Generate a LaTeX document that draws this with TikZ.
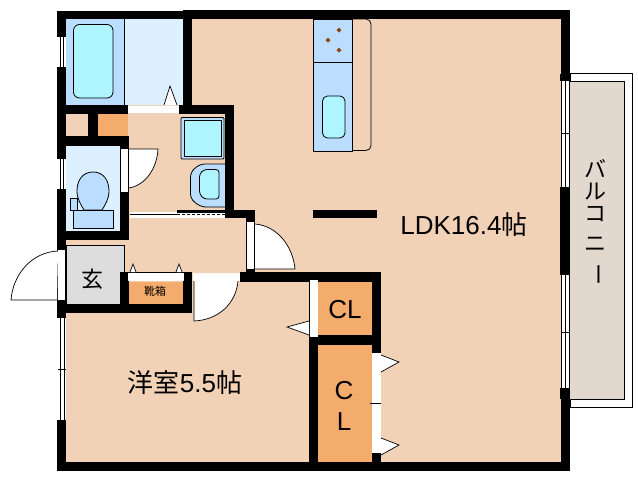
\documentclass[tikz,border=0pt]{standalone}
\usepackage{fontspec}
\setmainfont{Liberation Sans}
\newfontfamily\jpfont{Noto Sans CJK JP}
\definecolor{floorc}{HTML}{F2D2B6}
\definecolor{orangec}{HTML}{F4AC6C}
\definecolor{bluec}{HTML}{BBDDFF}
\definecolor{paleblue}{HTML}{DDF0FF}
\definecolor{cyanc}{HTML}{AEF5FF}
\definecolor{greyc}{HTML}{DDDDDD}
\definecolor{balconyc}{HTML}{E2D8CE}
\definecolor{dotc}{HTML}{8B4A10}
\tikzset{
	wall/.style={fill=black},
	thinline/.style={draw=black,line width=0.8pt},
	opening/.style={fill=white},
	doorleaf/.style={fill=white,draw=black,line width=0.7pt},
	bigtext/.style={font=\fontsize{26}{26}\selectfont,inner sep=0pt},
	jptext/.style={font=\jpfont\fontsize{22}{22}\selectfont,inner sep=0pt},
}

\begin{document}
\begin{tikzpicture}[x=1pt,y=-1pt]
	\useasboundingbox (0,0) rectangle (638,480);

	%Rooms
	\fill[floorc] (60,14) rectangle (566,467);
	\fill[paleblue] (66,19) rectangle (183,105);
	\fill[bluec] (66,19) rectangle (124,105);
	\draw[black,line width=0.6pt] (124,19) -- (124,105);
	\fill[orangec] (98,113) rectangle (128,136);
	\fill[paleblue] (66,146) rectangle (120,231);
	\draw[thinline,fill=greyc] (66,245) -- (124,245) -- (124,272) -- (120,272) -- (120,304) -- (66,304) -- cycle;
	\fill[orangec] (129,282) rectangle (183,304);
	\fill[orangec] (318,282) rectangle (372,335);
	\fill[orangec] (318,345) rectangle (372,462);

	%Balcony
	\draw[black,line width=1pt,fill=white] (570,73) rectangle (632,407);
	\draw[black,line width=1pt,fill=balconyc] (570,81.5) -- (624,81.5) -- (624,399) -- (570,399);

	%Bath
	\draw[thinline,fill=cyanc,rounded corners=6pt] (73.5,24.5) rectangle (113,98);
	\draw[doorleaf] (164,105) -- (170,86) -- (177,105);

	%Toilet
	\draw[thinline,fill=bluec] (93,172) .. controls (104,172) and (109,181) .. (109,191) .. controls (109,199) and (105,205) .. (102,210) -- (84,210) .. controls (81,205) and (77,199) .. (77,191) .. controls (77,181) and (82,172) .. (93,172) -- cycle;
	\draw[thinline,fill=bluec] (70.5,198) rectangle (77.5,210);
	\draw[thinline,fill=bluec] (73.5,210) rectangle (113,228);

	%Washroom
	\draw[thinline,fill=bluec,rounded corners=1pt] (181,117.5) rectangle (224,159);
	\draw[thinline,fill=cyanc] (184,120.5) rectangle (221,156);
	\draw[thinline,fill=bluec,rounded corners=5pt] (226,164) -- (200,164) -- (190.5,172) -- (190.5,199) -- (201,207) -- (226,207);
	\draw[thinline,fill=cyanc,rounded corners=3pt] (219,169.5) -- (204,169.5) -- (199.5,174) -- (199.5,194) -- (204,199) -- (219,199) -- cycle;

	%Kitchen
	\draw[thinline,fill=floorc,rounded corners=5pt] (352,19) -- (371,19) -- (371,150.5) -- (352,150.5);
	\draw[thinline,fill=bluec] (313.5,19) rectangle (352,151.5);
	\draw[thinline] (313.5,62) -- (352,62);
	\draw[thinline,fill=cyanc,rounded corners=5pt] (322.5,96) rectangle (345,138);
	\fill[dotc] (339,27.5) -- (341.5,30) -- (339,32.5) -- (336.5,30) -- cycle;
	\fill[dotc] (328,37.5) -- (330.5,40) -- (328,42.5) -- (325.5,40) -- cycle;
	\fill[dotc] (339,47.5) -- (341.5,50) -- (339,52.5) -- (336.5,50) -- cycle;

	%Walls
	\fill[wall] (57,11) rectangle (192,19);
	\fill[wall] (183,10) rectangle (570,19);
	\fill[wall] (57,11) rectangle (66,471);
	\fill[wall] (57,462) rectangle (570,471);
	\fill[wall] (561,10) rectangle (570,471);
	\fill[wall] (183,10) rectangle (192,113);
	\fill[wall] (57,105) rectangle (128,114);
	\fill[wall] (179,105) rectangle (234,114);
	\fill[wall] (225,105) rectangle (234,218);
	\fill[wall] (225,210) rectangle (255,218);
	\fill[wall] (88,114) rectangle (98,136);
	\fill[wall] (57,136) rectangle (129,146);
	\fill[wall] (120,136) rectangle (129,240);
	\fill[wall] (57,231) rectangle (129,240);
	\fill[wall] (246,210) rectangle (255,281);
	\fill[wall] (120,272) rectangle (192,281);
	\fill[wall] (120,272) rectangle (129,304);
	\fill[wall] (57,304) rectangle (192,313);
	\fill[wall] (183,272) rectangle (192,313);
	\fill[wall] (240,272) rectangle (381,282);
	\fill[wall] (309,272) rectangle (318,462);
	\fill[wall] (309,335) rectangle (381,345);
	\fill[wall] (372,272) rectangle (381,462);
	\fill[wall] (313,210) rectangle (377,218);
	\fill[wall] (560,74) rectangle (570,81);
	\fill[wall] (560,187) rectangle (570,275);
	\fill[wall] (560,388) rectangle (570,399);

	%Openings
	\fill[opening] (128,106) rectangle (179,113);
	\fill[opening] (58,250) rectangle (65,300);
	\fill[opening] (128,272.5) rectangle (184,281);
	\fill[opening] (193,272.5) rectangle (240,281);
	\fill[opening] (247,222) rectangle (254,269);
	\fill[opening] (121,149) rectangle (128,192);
	\fill[opening] (310,280) rectangle (318,337);
	\fill[opening] (372,353) rectangle (381,453);
	\draw[black,line width=0.7pt] (370,403) -- (381,403);

	%Sliding door
	\fill[opening] (130,211.5) rectangle (225,218);
	\draw[black,line width=1pt] (130,214.5) -- (177,214.5);
	\draw[black,line width=1pt,dash pattern=on 3pt off 2pt] (177,214.5) -- (225,214.5);
	\fill[wall] (177,210) rectangle (225,212.5);

	%Windows
	\fill[opening] (57,37) rectangle (66,67);
	\draw[black,line width=1pt] (60,37) -- (60,67) (63.5,37) -- (63.5,67);
	\fill[opening] (57,159) rectangle (66,189);
	\draw[black,line width=1pt] (60,159) -- (60,189) (63.5,159) -- (63.5,189);
	\fill[opening] (57,318) rectangle (66,420);
	\draw[black,line width=1pt] (60.5,318) -- (60.5,420) (64,318) -- (64,420) (58,369) -- (66,369) (60.5,364) -- (60.5,372);
	\fill[opening] (561,81) rectangle (570,187);
	\draw[black,line width=1pt] (561.5,81) -- (561.5,187) (565.5,81) -- (565.5,187) (569.5,81) -- (569.5,187) (561,133) -- (570,133);
	\fill[opening] (561,275) rectangle (570,388);
	\draw[black,line width=1pt] (561.5,275) -- (561.5,388) (565.5,275) -- (565.5,388) (569.5,275) -- (569.5,388) (561,332) -- (570,332);

	%Doors
	\draw[doorleaf] (129,149) -- (158,149) .. controls (157,168) and (146,185) .. (129,188);
	\draw[doorleaf] (58,251) .. controls (32,252) and (13,274) .. (11,300) -- (57,300);
	\draw[doorleaf] (194,281) -- (194,321) .. controls (218,320) and (236,304) .. (238,281);
	\draw[doorleaf] (255,224) .. controls (278,226) and (293,247) .. (295,269) -- (255,269);
	\draw[doorleaf] (130,272) -- (133,264) -- (136,272);
	\draw[doorleaf] (176,272) -- (179,264) -- (182,272);
	\draw[doorleaf] (309,321) -- (287,327) -- (309,335);
	\draw[doorleaf] (381,355) -- (399,362) -- (381,372);
	\draw[doorleaf] (381,438) -- (399,445) -- (381,455);

	%Labels
	\node[bigtext] (ldk) at (464,225) {LDK16.4{\jpfont 帖}};
	\node[bigtext] (yoshitsu) at (185,383) {{\jpfont 洋室}5.5{\jpfont 帖}};
	\node[jptext] (genkan) at (92,279) {玄};
	\node[inner sep=0pt,font=\jpfont\fontsize{11}{11}\selectfont] (kutsubako) at (155,291) {靴箱};
	\node[bigtext] (cl) at (345,310) {CL};
	\node[bigtext] (clc) at (344,391) {C};
	\node[bigtext] (cll) at (344,422) {L};
	\node[jptext] (baru) at (595,169) {バ};
	\node[jptext] (ru) at (595,192) {ル};
	\node[jptext] (ko) at (595,214) {コ};
	\node[jptext] (ni) at (595,244) {ニ};
	\node[jptext,rotate=-90] (bo) at (595,274) {ー};
\end{tikzpicture}
\end{document}
